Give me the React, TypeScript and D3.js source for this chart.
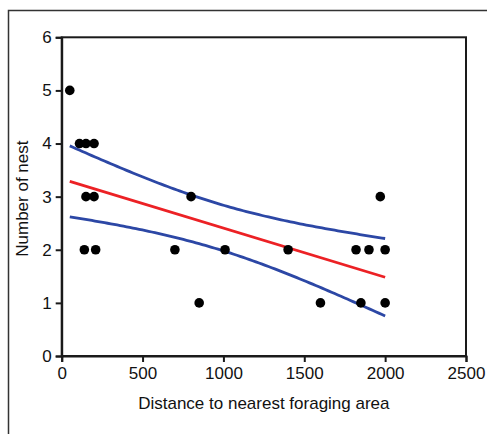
import React, { useEffect, useRef } from "react";
import * as d3 from "d3";

const distance = [50, 110, 150, 200, 150, 200, 800, 1970, 140, 210, 700, 1010, 1400, 1820, 1900, 2000, 850, 1600, 1850, 2000];
const nests = [5, 4, 4, 4, 3, 3, 3, 3, 2, 2, 2, 2, 2, 2, 2, 2, 1, 1, 1, 1];
const xTicks = [0, 500, 1000, 1500, 2000, 2500];
const yTicks = [0, 1, 2, 3, 4, 5, 6];
const T_CRIT = 2.101; // t(0.975), df = 18

const W = 487;
const H = 434;

function fitLine(xs: number[], ys: number[]) {
  const n = xs.length;
  const mx = d3.mean(xs) as number;
  const my = d3.mean(ys) as number;
  let sxx = 0, sxy = 0;
  xs.forEach((x, i) => {
    sxx += (x - mx) * (x - mx);
    sxy += (x - mx) * (ys[i] - my);
  });
  const slope = sxy / sxx;
  const icpt = my - slope * mx;
  let sse = 0;
  xs.forEach((x, i) => {
    const r = ys[i] - (icpt + slope * x);
    sse += r * r;
  });
  const s = Math.sqrt(sse / (n - 2));
  const band = (x: number) => T_CRIT * s * Math.sqrt(1 / n + ((x - mx) * (x - mx)) / sxx);
  return { slope, icpt, band };
}

export default function App() {
  const ref = useRef<SVGSVGElement>(null);

  useEffect(() => {
    const svg = d3.select(ref.current);
    svg.selectAll("*").remove();

    const left = 61.7, right = 466, top = 37.3, bottom = 356;
    const x = d3.scaleLinear().domain([0, 2500]).range([left, right]);
    const y = d3.scaleLinear().domain([0, 6]).range([bottom, top]);

    // outer frame
    svg.append("rect")
      .attr("x", 8.5).attr("y", 10.5)
      .attr("width", W).attr("height", H)
      .attr("fill", "none").attr("stroke", "#333").attr("stroke-width", 1.5);

    // plot box
    svg.append("rect")
      .attr("x", left).attr("y", top)
      .attr("width", right - left).attr("height", bottom - top)
      .attr("fill", "none").attr("stroke", "#1a1a1a").attr("stroke-width", 2);

    const font = "'Liberation Sans', Arial, sans-serif";

    const xAxis = svg.append("g").attr("transform", `translate(0,${bottom})`)
      .call(d3.axisBottom(x).tickValues(xTicks).tickSize(6).tickPadding(5).tickFormat(d3.format("d")));
    const yAxis = svg.append("g").attr("transform", `translate(${left},0)`)
      .call(d3.axisLeft(y).tickValues(yTicks).tickSize(6).tickPadding(4).tickFormat(d3.format("d")));
    [xAxis, yAxis].forEach((g) => {
      g.select(".domain").attr("stroke", "#1a1a1a").attr("stroke-width", 2);
      g.selectAll(".tick line").attr("stroke", "#1a1a1a").attr("stroke-width", 2);
      g.selectAll(".tick text").attr("fill", "#111").style("font-family", font).style("font-size", "17px");
    });

    // regression + 95% confidence band
    const fit = fitLine(distance, nests);
    const xMin = d3.min(distance) as number;
    const xMax = d3.max(distance) as number;
    const grid = d3.range(0, 101).map((i) => xMin + ((xMax - xMin) * i) / 100);
    const line = d3.line<number[]>().x((d) => x(d[0])).y((d) => y(d[1]));

    const upper = grid.map((g) => [g, fit.icpt + fit.slope * g + fit.band(g)]);
    const lower = grid.map((g) => [g, fit.icpt + fit.slope * g - fit.band(g)]);
    const mid = [xMin, xMax].map((g) => [g, fit.icpt + fit.slope * g]);

    [upper, lower].forEach((pts) => {
      svg.append("path").attr("d", line(pts)).attr("fill", "none")
        .attr("stroke", "#2c47a5").attr("stroke-width", 2.8);
    });
    svg.append("path").attr("d", line(mid)).attr("fill", "none")
      .attr("stroke", "#ec2125").attr("stroke-width", 2.8);

    // points
    svg.append("g").selectAll("circle")
      .data(distance.map((d, i) => [d, nests[i]]))
      .enter().append("circle")
      .attr("cx", (d) => x(d[0]))
      .attr("cy", (d) => y(d[1]))
      .attr("r", 4.8)
      .attr("fill", "#000");

    // axis titles
    svg.append("text")
      .attr("x", (left + right) / 2).attr("y", 409)
      .attr("text-anchor", "middle")
      .style("font-family", font).style("font-size", "17px").attr("fill", "#111")
      .text("Distance to nearest foraging area");

    svg.append("text")
      .attr("transform", `translate(28,${(top + bottom) / 2 + 2}) rotate(-90)`)
      .attr("text-anchor", "middle")
      .style("font-family", font).style("font-size", "17px").attr("fill", "#111")
      .text("Number of nest");
  }, []);

  return (
    <svg ref={ref} width={W} height={H}
      style={{ position: "absolute", left: 0, top: 0, background: "#fff" }} />
  );
}
